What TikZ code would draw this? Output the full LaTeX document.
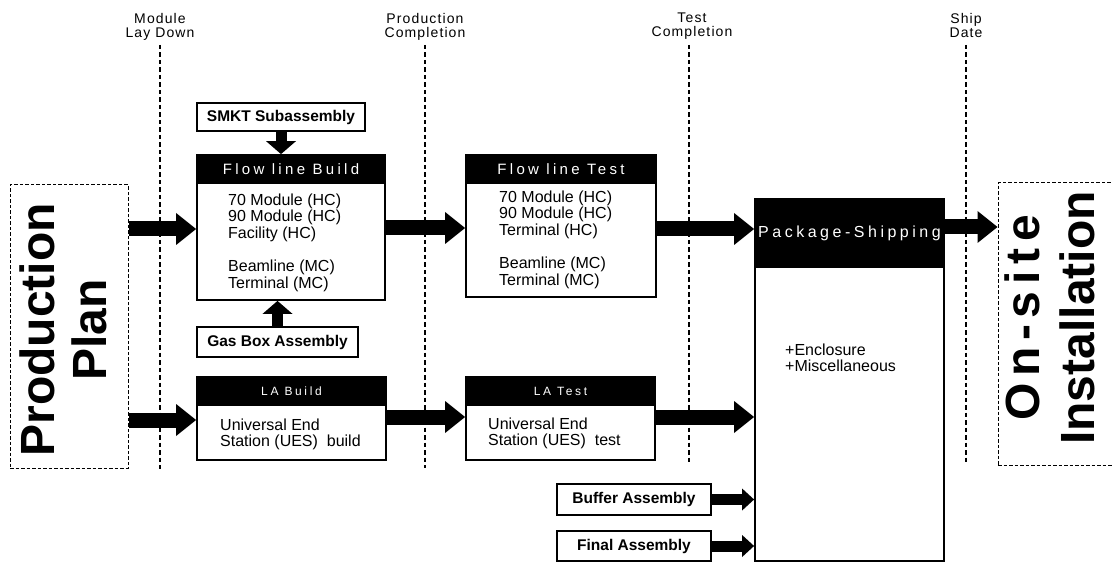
\documentclass[tikz,border=0pt]{standalone}
\usepackage{fontspec}
\setmainfont{Liberation Sans}
\newfontfamily\hdrfont[LetterSpace=22]{Liberation Sans}
\newfontfamily\mlfont[LetterSpace=8]{Liberation Sans}
\newfontfamily\spfont[LetterSpace=14]{Liberation Sans}
\usetikzlibrary{arrows.meta}

\begin{document}
\begin{tikzpicture}[x=1pt,y=-1pt,
  box/.style={draw=black, line width=1.8pt, fill=white, inner sep=0pt},
  dbox/.style={draw=black, line width=1pt, dash pattern=on 3.5pt off 2pt, inner sep=0pt},
  hdr/.style={fill=black, draw=black, line width=1.8pt, text=white, inner sep=0pt, anchor=north,
              font=\hdrfont\fontsize{15}{15}\selectfont},
  body/.style={anchor=north west, align=left, inner sep=0pt, font=\fontsize{16}{16.6}\selectfont},
  tag/.style={box, font=\bfseries\fontsize{15.5}{16}\selectfont},
  milestone/.style={align=center, inner sep=0pt, anchor=north, font=\mlfont\fontsize{14}{14}\selectfont},
  vline/.style={line width=1.1pt, dash pattern=on 4.5pt off 3pt},
  bigarrow/.style={line width=15pt, -{Triangle[length=20pt,width=32pt,line width=0pt]}},
  vertarrow/.style={line width=11pt, -{Triangle[length=13pt,width=30pt,line width=0pt]}},
  smallarrow/.style={line width=11pt, -{Triangle[length=12pt,width=22pt,line width=0pt]}},
  bigtext/.style={rotate=90, align=center, inner sep=0pt}
]
\useasboundingbox (0,0) rectangle (1112,564);
\clip (0,0) rectangle (1112,564);

% milestones along the top
\node[milestone] (m1) at (160,12.8) {Module\\Lay Down};
\node[milestone] (m2) at (425,12.8) {Production\\Completion};
\node[milestone] (m3) at (692,12.8) {Test\\Completion};
\node[milestone] (m4) at (966,12.8) {Ship\\Date};
\coordinate (m1b) at (160,469);
\coordinate (m2b) at (425,468);
\coordinate (m3b) at (689,465);
\coordinate (m4b) at (966,462);
\draw[vline] (m1b |- 0,45) -- (m1b);
\draw[vline] (m2b |- 0,45) -- (m2b);
\draw[vline] (m3b |- 0,45) -- (m3b);
\draw[vline] (m4b |- 0,45) -- (m4b);

% end points of the flow
\node[dbox, minimum width=118, minimum height=283] (pp) at (69,326.5) {};
\node[bigtext, font=\bfseries\fontsize{48}{52}\selectfont] (ppt) at (63.5,330) {Production\\Plan};
\node[dbox, minimum width=127, minimum height=282] (osi) at (1061.5,324) {};
\node[bigtext, font=\bfseries\fontsize{48}{55}\selectfont] (osit) at (1050,318)
  {{\spfont\bfseries On-site}\hspace{30pt}\\Installation};

% flow line build
\node[tag, minimum width=168, minimum height=28] (smkt) at (281,117) {SMKT Subassembly};
\node[box, minimum width=188, minimum height=145] (fb) at (291,227.5) {};
\node[hdr, minimum width=188, minimum height=28] (fbh) at (fb.north) {Flow line Build};
\node[body] (fbt) at (228,193.3) {70 Module (HC)\\90 Module (HC)\\Facility (HC)\\[16.6pt]Beamline (MC)\\Terminal (MC)};
\node[tag, minimum width=161, minimum height=30] (gas) at (277.5,342) {Gas Box Assembly};

% flow line test
\node[box, minimum width=190, minimum height=142] (ft) at (561,226) {};
\node[hdr, minimum width=190, minimum height=28] (fth) at (ft.north) {Flow line Test};
\node[body] (ftt) at (499,190.5) {70 Module (HC)\\90 Module (HC)\\Terminal (HC)\\[16.6pt]Beamline (MC)\\Terminal (MC)};

% LA build and test
\node[box, minimum width=189, minimum height=83] (lab) at (291.5,418.5) {};
\node[hdr, minimum width=189, minimum height=28, font=\hdrfont\fontsize{12}{12}\selectfont] (labh) at (lab.north) {LA Build};
\node[body] (labt) at (220,418.3) {Universal End\\Station (UES) \ build};
\node[box, minimum width=189, minimum height=83] (lat) at (560.5,418.5) {};
\node[hdr, minimum width=189, minimum height=28, font=\hdrfont\fontsize{12}{12}\selectfont] (lath) at (lat.north) {LA Test};
\node[body] (latt) at (488,417.3) {Universal End\\Station (UES) \ test};

% package and shipping
\node[box, minimum width=189, minimum height=362] (pk) at (849.5,380) {};
\node[hdr, minimum width=189, minimum height=68, font=\hdrfont\fontsize{16}{16}\selectfont] (pkh) at (pk.north) {Package-Shipping};
\node[body] (pkt) at (785,343.3) {+Enclosure\\+Miscellaneous};
\node[tag, minimum width=154, minimum height=31] (buf) at (634,499.5) {Buffer Assembly};
\node[tag, minimum width=154, minimum height=30] (fin) at (634,546) {Final Assembly};

% connectors
\draw[bigarrow] (pp.east |- 0,229) -- (fb.west |- 0,229);
\draw[bigarrow] (pp.east |- 0,420) -- (lab.west |- 0,420);
\draw[bigarrow] (fb.east |- 0,228) -- (ft.west |- 0,228);
\draw[bigarrow] (lab.east |- 0,417) -- (lat.west |- 0,417);
\draw[bigarrow] (ft.east |- 0,229) -- (pk.west |- 0,229);
\draw[bigarrow] (lat.east |- 0,417) -- (pk.west |- 0,417);
\draw[bigarrow] (pk.east |- 0,227) -- (osi.west |- 0,227);
\draw[vertarrow] (smkt.south) -- (smkt.south |- fb.north);
\draw[vertarrow] (gas.north) -- (gas.north |- fb.south);
\draw[smallarrow] (buf.east) -- (buf.east -| pk.west);
\draw[smallarrow] (fin.east) -- (fin.east -| pk.west);
\end{tikzpicture}
\end{document}
